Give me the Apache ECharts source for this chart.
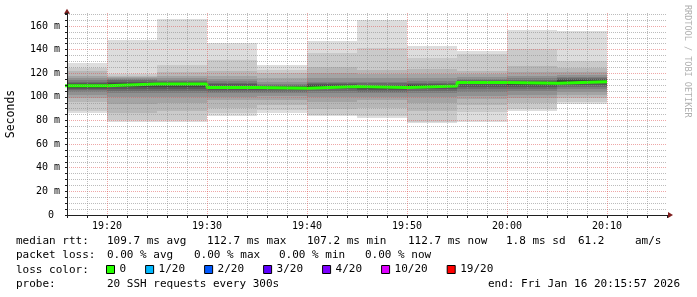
<!DOCTYPE html>
<html><head><meta charset="utf-8">
<script src="https://cdn.jsdelivr.net/npm/echarts@6/dist/echarts.min.js"></script>
<style>html,body{margin:0;padding:0;background:#fff}#c{width:697px;height:297px}</style>
</head><body><div id="c"></div>
<script>
// time axis: minutes after 19:00; each step is 5 minutes (300 s)
const stepStart = [15,20,25,30,35,40,45,50,55,60,65];
const stepEnd   = [20,25,30,35,40,45,50,55,60,65,70];
const medianRtt = [109.5,110.8,110.9,108.0,107.2,108.8,107.9,109.3,112.2,111.6,112.7];
// 20 sorted SSH RTTs (ms) per step
const ping1915 = [86,88,96,99,102,104,105.5,106.5,107.5,109.1, 109.9,111,112,113,114,116,118,122,124.4,129];
const ping1920 = [79,80,86,94,100,103,105,107,108.5,110.4, 111.2,112,113,114,115,116,117,118,119,148];
const ping1925 = [79,80,88,95,100,103,105,107,108.5,110.5, 111.3,112,112.8,113.6,114.5,116,118,121,127,166];
const ping1930 = [83.5,86.5,91,97,100,103,104.5,106,107,107.6, 108.4,109.5,110.5,112,113.5,115.5,118,122,131,146];
const ping1935 = [86,89,93,97.5,101,103,104.5,105.5,106.3,106.8, 107.6,108.3,109,110,111,113,116,120,123,127];
const ping1940 = [84,85,90,96,100,103,105,106.5,107.5,108.4, 109.2,109.8,110.5,111.5,113,116,120,125,137,147];
const ping1945 = [82.5,83.5,91,97,100,103,104.5,106,107,107.5, 108.3,109,110,111.5,113,116,119,123,141,165];
const ping1950 = [78,79,88,95,100,103,105,106.5,108,108.9, 109.7,110.2,111,112,113.5,116,119,124,133,143];
const ping1955 = [79,87.5,93,98,101,104,106.5,108.5,110.5,111.8, 112.6,113,113.5,114.5,115.5,117,119,122,136,139];
const ping2000 = [88,90,95,99,102,105,107,108.5,110,111.2, 112,112.7,113.5,114.5,116,118,121,126,140.5,157];
const ping2005 = [94,96,99,102,104.5,106.5,108.5,110,111.5,112.3, 113.1,114,115,116,117,118.5,121,124.5,130,156];
const stepPings = [ping1915,ping1920,ping1925,ping1930,ping1935,ping1940,ping1945,ping1950,ping1955,ping2000,ping2005];

const xLabelMinutes = [20,30,40,50,60,70];
const xLabelTexts = ['19:20','19:30','19:40','19:50','20:00','20:10'];

const lossLabels = ['0','1/20','2/20','3/20','4/20','10/20','19/20'];
const lossColors = ['#26ff00','#00b8ff','#0059ff','#5e00ff','#7e00ff','#dd00ff','#ff0000'];

const rttLine = ['median rtt:','109.7 ms avg','112.7 ms max','107.2 ms min','112.7 ms now','1.8 ms sd','61.2','am/s'];
const rttX = [16,107,207,307,408,506,578,635];
const lossLine = ['packet loss:','0.00 % avg','0.00 % max','0.00 % min','0.00 % now'];
const lossX = [16,107,194,279,365];

// smoke shades (SmokePing): outer pair lightest
const half = 10;
const smokeShade = [];
for (let i = 1; i <= half; i++) {
  const c = Math.floor(190 / half * (half - i)) + 50;
  smokeShade.push('rgb(' + c + ',' + c + ',' + c + ')');
}

const smokeData = [];
for (let layer = 0; layer < half; layer++) {
  for (let s = 0; s < stepPings.length; s++) {
    const p = stepPings[s];
    smokeData.push([stepStart[s], stepEnd[s], p[layer], p[p.length - 1 - layer], layer]);
  }
}
const medianData = [];
for (let s = 0; s < medianRtt.length; s++) {
  medianData.push([stepStart[s], medianRtt[s]]);
  medianData.push([stepEnd[s], medianRtt[s]]);
}

const MONO = 'DejaVu Sans Mono';
const FONT = '11px "' + MONO + '"';
const gridGrey = 'rgba(143,143,143,0.6)';
const gridRed = 'rgba(222,79,79,0.5)';

const chart = echarts.init(document.getElementById('c'), null, {renderer: 'canvas'});
const texts = [];
rttLine.forEach((t, i) => texts.push({type:'text', x: rttX[i], y: 241, style:{text:t, font:FONT, fill:'#000', verticalAlign:'middle'}}));
lossLine.forEach((t, i) => texts.push({type:'text', x: lossX[i], y: 255.5, style:{text:t, font:FONT, fill:'#000', verticalAlign:'middle'}}));
texts.push({type:'text', x:16, y:270, style:{text:'loss color:', font:FONT, fill:'#000', verticalAlign:'middle'}});
texts.push({type:'text', x:16, y:284, style:{text:'probe:', font:FONT, fill:'#000', verticalAlign:'middle'}});
texts.push({type:'text', x:107, y:284, style:{text:'20 SSH requests every 300s', font:FONT, fill:'#000', verticalAlign:'middle'}});
texts.push({type:'text', x:680, y:284, style:{text:'end: Fri Jan 16 20:15:57 2026', font:FONT, fill:'#000', align:'right', verticalAlign:'middle'}});
texts.push({type:'text', x:687, y:5, rotation:-Math.PI/2, style:{text:'RRDTOOL / TOBI OETIKER', font:'8.5px "' + MONO + '"', fill:'#b0b0b0', align:'left', verticalAlign:'middle'}});

const series = [
  {
    type:'custom', name:'smoke', z:1, clip:true, silent:true,
    data: smokeData,
    encode:{x:[0,1], y:[2,3]},
    renderItem(params, api) {
      const p1 = api.coord([api.value(0), api.value(3)]);
      const p2 = api.coord([api.value(1), api.value(2)]);
      const x1 = Math.round(p1[0]), x2 = Math.round(p2[0]);
      const y1 = Math.round(p1[1]), y2 = Math.round(p2[1]);
      const cs = params.coordSys;
      const shape = echarts.graphic.clipRectByRect(
        {x:x1, y:y1, width:x2 - x1, height:y2 - y1},
        {x:cs.x, y:cs.y, width:cs.width, height:cs.height});
      if (!shape) return;
      return {type:'rect', shape: shape, style:{fill: smokeShade[api.value(4)]}};
    }
  },
  {
    type:'line', name:'median', z:2, clip:true, silent:true, symbol:'none',
    data: medianData,
    lineStyle:{color: lossColors[0], width:3}
  }
];
lossLabels.forEach((n, i) => series.push({type:'line', name:n, data:[], itemStyle:{color:lossColors[i]}, lineStyle:{color:lossColors[i]}}));

chart.setOption({
  animation:false,
  backgroundColor:'#fff',
  grid:{left:67, top:13, width:600, height:202, containLabel:false, outerBoundsMode:'none'},
  xAxis:[
    {type:'value', min:16, max:76, show:true, z:3, position:'bottom',
     axisLine:{show:true, onZero:false, symbol:['none','triangle'], symbolSize:[6,5], symbolOffset:[0,3.5], lineStyle:{color:'#7f1f1f'}},
     axisTick:{show:false}, axisLabel:{show:false}, splitLine:{show:false}},
    {type:'value', min:16, max:76, interval:2, z:4, position:'bottom',
     axisLine:{show:true, onZero:false, lineStyle:{color:'#1f1f1f'}},
     axisTick:{show:true, length:3, lineStyle:{color:'#1f1f1f'}},
     axisLabel:{margin:6, fontFamily:MONO, fontSize:10, color:'#000',
       formatter: v => { const k = xLabelMinutes.indexOf(Math.round(v)); return k >= 0 ? xLabelTexts[k] : ''; }},
     splitLine:{show:true, showMaxLine:false, lineStyle:{color:[gridGrey,gridGrey,gridRed,gridGrey,gridGrey], type:[1,1], width:1}}}
  ],
  yAxis:[
    {type:'value', min:0, max:171, z:3, position:'left',
     axisLine:{show:true, onZero:false, symbol:['none','triangle'], symbolSize:[6,5], symbolOffset:[0,1.8], lineStyle:{color:'#7f1f1f'}},
     axisTick:{show:false}, axisLabel:{show:false}, splitLine:{show:false}},
    {type:'value', min:0, max:171, interval:5, z:4, position:'left',
     axisLine:{show:true, onZero:false, lineStyle:{color:'#1f1f1f'}},
     axisTick:{show:true, length:2, lineStyle:{color:'#1f1f1f'}},
     axisLabel:{margin:7, fontFamily:MONO, fontSize:10, color:'#000',
       formatter: v => (v % 20 === 0 && v <= 160) ? (v === 0 ? '0 ' : v + ' m') : ''},
     splitLine:{show:true, showMaxLine:false, lineStyle:{color:[gridRed,gridGrey,gridGrey,gridGrey], type:[1,1], width:1}},
     name:'Seconds', nameLocation:'middle', nameGap:50, nameRotate:90,
     nameTextStyle:{fontFamily:MONO, fontSize:11.5, color:'#000'}}
  ],
  legend:{left:106, top:264, padding:0, itemWidth:8, itemHeight:8, itemGap:19, selectedMode:false,
    textStyle:{fontFamily:MONO, fontSize:11, color:'#000'},
    data: lossLabels.map((n, i) => ({name:n, icon:'rect', itemStyle:{color:lossColors[i], borderColor:'#000', borderWidth:1}}))},
  series: series.map(s => Object.assign({xAxisIndex:1, yAxisIndex:1}, s)),
  graphic: texts
});
</script></body></html>
